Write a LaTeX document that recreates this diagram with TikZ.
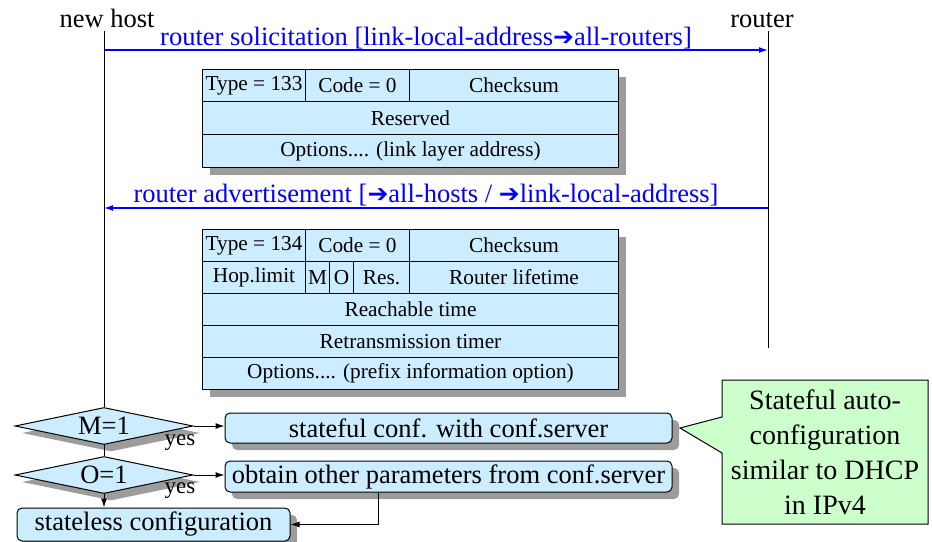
\documentclass[tikz,border=0pt]{standalone}
\usepackage{fontspec}
\setmainfont{Liberation Serif}
\newfontfamily\arrowfont{DejaVu Sans}
\usetikzlibrary{positioning,shapes.geometric,shapes.callouts,shadows,arrows.meta}
\definecolor{pktblue}{HTML}{CCECFF}
\definecolor{notegreen}{HTML}{CCFFCC}
\definecolor{shadegray}{HTML}{9C9C9C}
\tikzset{
    boxshadow/.style={drop shadow={shadow xshift=7pt,shadow yshift=-7pt,fill=shadegray,opacity=1}},
    field/.style={draw,fill=pktblue,boxshadow,anchor=north west,inner sep=0pt,font=\fontsize{21.3}{23}\selectfont},
    msg/.style={blue,font=\fontsize{26.5}{30}\selectfont},
    flowbox/.style={draw,fill=pktblue,boxshadow,rounded corners=5pt,inner sep=0pt,font=\fontsize{26.5}{30}\selectfont},
    test/.style={draw,fill=pktblue,boxshadow,diamond,aspect=4.8,inner sep=0pt,
        minimum width=178pt,minimum height=37pt,font=\fontsize{26.5}{30}\selectfont},
}
\newcommand\harrow{{\arrowfont\fontsize{25}{30}\selectfont ➔}}
\begin{document}
\begin{tikzpicture}[x=1pt,y=-1pt,line width=1pt,>={Latex[length=9pt,width=6pt]},font=\fontsize{26.5}{30}\selectfont]
                \useasboundingbox (0,0) rectangle (932,541);
                \def\field(#1,#2,#3,#4)#5#6{\node[field,minimum width=#3pt-#1pt,minimum height=#4pt-#2pt] (#5) at (#1,#2) {#6};}
                \node[anchor=base] (host) at (107,27) {new host};
                \node[anchor=base] (rtr) at (762,27) {router};
                \coordinate (rbot) at (768,348);
                \draw (rbot |- rtr.south) -- (rbot);
                %===========================================
                \coordinate (hs) at (104,50); \coordinate (rs) at (768,50);
                \draw[blue,line width=1.4pt,->] (hs) -- (rs);
                \node[msg,anchor=base] (sol) at (426,45) {router solicitation [link-local-address\harrow all-routers]};
                \field(202,69,305,101){tpa}{Type = 133}
                \field(305,69,409,101){cda}{Code = 0}
                \field(409,69,618,101){csa}{Checksum}
                \field(202,101,618,134){rsv}{Reserved}
                \field(202,134,618,167){opa}{Options.... (link layer address)}
                %===========================================
                \coordinate (ra) at (768,208); \coordinate (ha) at (104,208);
                \draw[blue,line width=1.4pt,->] (ra) -- (ha);
                \node[msg,anchor=base] (adv) at (426,202) {router advertisement [\harrow all-hosts / \harrow link-local-address]};
                \field(202,229,305,261){tpb}{Type = 134}
                \field(305,229,409,261){cdb}{Code = 0}
                \field(409,229,618,261){csb}{Checksum}
                \field(202,261,305,293){hop}{Hop.limit}
                \field(305,261,329,293){mfl}{M}
                \field(329,261,353,293){ofl}{O}
                \field(353,261,409,293){res}{Res.}
                \field(409,261,618,293){life}{Router lifetime}
                \field(202,293,618,325){reach}{Reachable time}
                \field(202,325,618,357){retr}{Retransmission timer}
                \field(202,357,618,389){opb}{Options.... (prefix information option)}
                %===========================================
                \node[test] (m) at (104,426) {M=1};
                \node[test] (o) at (104,475) {O=1};
                \draw (m.north |- host.south) -- (m.north);
                \draw (m.south) -- (o.north);
                \node[flowbox,minimum width=447pt,minimum height=30pt] (sf) at (448.5,428) {stateful conf. with conf.server};
                \node[flowbox,minimum width=447pt,minimum height=31pt] (ob) at (448.5,476.5) {obtain other parameters from conf.server};
                \node[flowbox,minimum width=273pt,minimum height=33pt] (sl) at (153.5,524.5) {stateless configuration};
                \node[font=\fontsize{23}{25}\selectfont] (yes1) at (180,443) {yes};
                \node[font=\fontsize{23}{25}\selectfont] (yes2) at (180,491) {yes};
                \draw[->] (m.east) -- (m.east -| sf.west);
                \draw[->] (o.east) -- (o.east -| ob.west);
                \draw[->] (o.south) -- (o.south |- sl.north);
                \draw[->] ([xshift=-70.5pt]ob.south) |- (sl.east);
                \coordinate (tip) at (680,428);
                \node[rectangle callout,draw,fill=notegreen,minimum width=206pt,minimum height=144pt,
                    callout absolute pointer={(tip)},callout pointer width=36pt,align=center,
                    font=\fontsize{28}{35}\selectfont] (note) at (825,452) {Stateful auto-\\configuration\\similar to DHCP\\in IPv4};
        \end{tikzpicture}
\end{document}
